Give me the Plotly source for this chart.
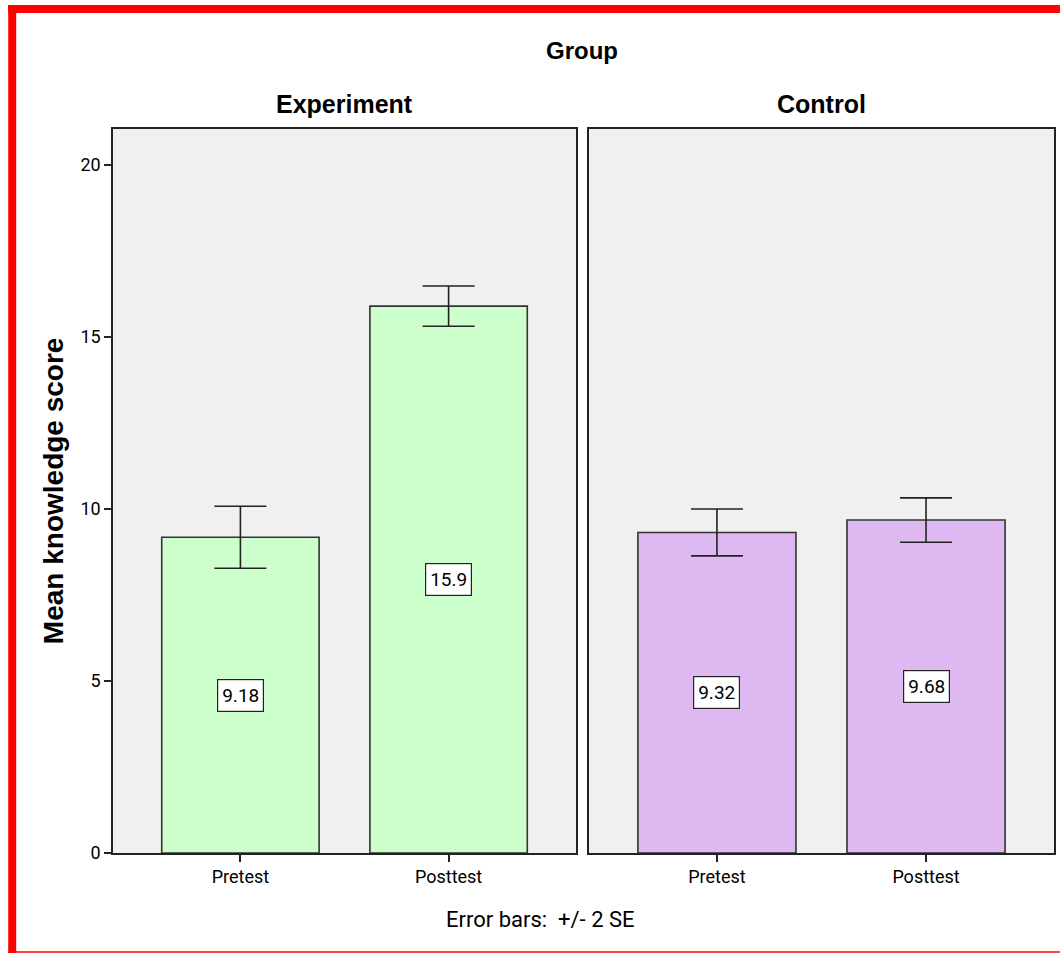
import plotly.graph_objects as go

groups = ["Experiment", "Control"]
phases = ["Pretest", "Posttest"]
means = {"Experiment": [9.18, 15.9], "Control": [9.32, 9.68]}
err2se = {"Experiment": [0.90, 0.585], "Control": [0.68, 0.645]}
labels = {"Experiment": ["9.18", "15.9"], "Control": ["9.32", "9.68"]}
colors = {"Experiment": "#CCFFCC", "Control": "#DDB8F1"}
y_ticks = [0, 5, 10, 15, 20]

NARROW = "Liberation Sans Narrow, Arial Narrow, Roboto"
BOLD = "Liberation Sans, Arial"

W, H = 1062, 953
L, R, T, B = 113, 6, 129, 100
pw, ph = W - L - R, H - T - B

def px(x):
    return (x - L) / pw

def py(y):
    return (H - B - y) / ph

fig = go.Figure()
domains = [[0, px(577)], [px(590), 1]]
for i, g in enumerate(groups):
    xa = "x" if i == 0 else "x2"
    ya = "y" if i == 0 else "y2"
    fig.add_trace(go.Bar(
        x=phases, y=means[g], xaxis=xa, yaxis=ya, width=0.756,
        marker=dict(color=colors[g], line=dict(color="#333333", width=1.6)),
        error_y=dict(type="data", array=err2se[g], color="#222222", thickness=1.6, width=26),
        showlegend=False, hoverinfo="skip"))
    for p, m, lab in zip(phases, means[g], labels[g]):
        fig.add_annotation(x=p, y=m / 2, xref=xa, yref=ya, text=lab, showarrow=False,
                           bgcolor="white", bordercolor="#222222", borderwidth=1.2, borderpad=4,
                           font=dict(family=NARROW, size=19, color="black"))
    fig.add_annotation(x=(domains[i][0] + domains[i][1]) / 2, y=py(104), xref="paper", yref="paper",
                       xanchor="center", yanchor="middle",
                       text="<b>%s</b>" % g, showarrow=False,
                       font=dict(family=BOLD, size=25, color="black"))

axis_common = dict(showline=True, linecolor="#222222", linewidth=1.5, mirror=True,
                   ticks="outside", ticklen=7, tickcolor="#222222", tickwidth=1.5,
                   showgrid=False, zeroline=False,
                   tickfont=dict(family=NARROW, size=18, color="black"))
axis_noticks = {k: v for k, v in axis_common.items() if k != "ticks"}

fig.update_layout(
    width=W, height=H, margin=dict(l=L, r=R, t=T, b=B),
    paper_bgcolor="white", plot_bgcolor="#F0F0F0",
    xaxis=dict(domain=domains[0], range=[-0.612, 1.612], **axis_common),
    xaxis2=dict(domain=domains[1], range=[-0.612, 1.612], anchor="y2", **axis_common),
    yaxis=dict(range=[0, 21.05], tickvals=y_ticks, **axis_common),
    yaxis2=dict(range=[0, 21.05], tickvals=y_ticks, anchor="x2", showticklabels=False,
                ticks="", **axis_noticks),
)

fig.add_annotation(x=px(583), y=py(50.5), xref="paper", yref="paper", text="<b>Group</b>",
                   xanchor="center", yanchor="middle",
                   showarrow=False, font=dict(family=BOLD, size=24, color="black"))
fig.add_annotation(x=px(53), y=py(491), xref="paper", yref="paper", text="<b>Mean knowledge score</b>",
                   xanchor="center", yanchor="middle",
                   textangle=-90, showarrow=False, font=dict(family=BOLD, size=28, color="black"))
fig.add_annotation(x=px(541), y=py(919), xref="paper", yref="paper", text="Error bars:  +/- 2 SE",
                   xanchor="center", yanchor="middle",
                   showarrow=False, font=dict(family=NARROW, size=22, color="black"))

# red frame around the image
fig.add_shape(type="rect", xref="paper", yref="paper", x0=px(8), x1=px(16), y0=py(953), y1=py(5),
              fillcolor="red", line=dict(width=0))
fig.add_shape(type="rect", xref="paper", yref="paper", x0=px(8), x1=px(1062), y0=py(13), y1=py(5),
              fillcolor="red", line=dict(width=0))
fig.add_shape(type="line", xref="paper", yref="paper", x0=px(8), x1=px(1062), y0=py(952), y1=py(952),
              line=dict(color="red", width=1.5))

fig.write_html("out.html", config={"displayModeBar": False},
               post_script="document.body.style.margin='0px';document.body.style.overflow='hidden';")
